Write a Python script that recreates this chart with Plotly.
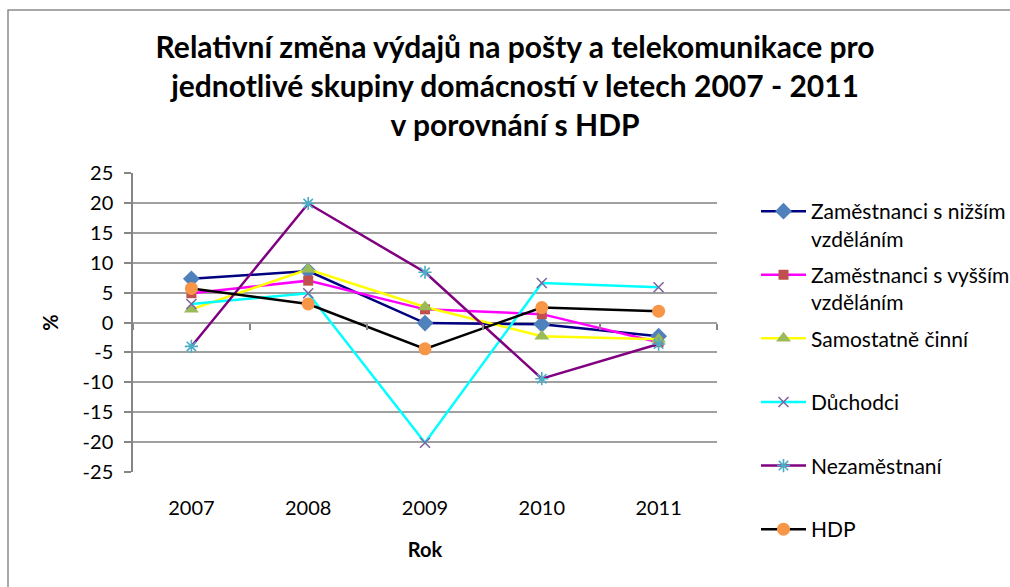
import plotly.graph_objects as go

years = ["2007", "2008", "2009", "2010", "2011"]
nizsi = [7.3, 8.6, -0.1, -0.3, -2.3]
vyssi = [4.9, 7.0, 2.2, 1.4, -3.3]
samostatne = [2.2, 8.9, 2.6, -2.3, -2.8]
duchodci = [3.1, 4.9, -20.1, 6.6, 5.9]
nezamestnani = [-4.0, 19.9, 8.4, -9.4, -3.6]
hdp = [5.7, 3.1, -4.4, 2.5, 1.9]
y_ticks = [25, 20, 15, 10, 5, 0, -5, -10, -15, -20, -25]

FONT = "Lato"

series = [
    ("Zaměstnanci s nižším<br>vzděláním", nizsi, "#000080", "diamond", "#4F81BD", 13, 0),
    ("Zaměstnanci s vyšším<br>vzděláním", vyssi, "#FF00FF", "square", "#C0504D", 10, 0),
    ("Samostatně činní<br> ", samostatne, "#FFFF00", "triangle-up", "#9BBB59", 13, 0),
    ("Důchodci<br> ", duchodci, "#00FFFF", "x-thin", "#8064A2", 10, 1.6),
    ("Nezaměstnaní<br> ", nezamestnani, "#800080", "asterisk", "#4BACC6", 11, 1.6),
    ("HDP<br> ", hdp, "#000000", "circle", "#F79646", 13, 0),
]

fig = go.Figure()
for i, (name, vals, lc, sym, mc, ms, mlw) in enumerate(series):
    marker = dict(symbol=sym, color=mc, size=ms)
    if mlw:
        marker["line"] = dict(color=mc, width=mlw)
    else:
        marker["line"] = dict(width=0)
    fig.add_trace(go.Scatter(
        x=years, y=vals, name=name, mode="lines+markers",
        line=dict(color=lc, width=2.5), marker=marker,
        legendgroup="g%d" % i,
    ))

# helper trace for the tick marks at the zero line
fig.add_trace(go.Scatter(x=years, y=[None] * len(years), xaxis="x2",
                         showlegend=False, hoverinfo="skip", mode="lines"))

fig.update_layout(
    width=1010, height=587,
    margin=dict(l=133, r=293, t=173, b=115, autoexpand=False),
    paper_bgcolor="white", plot_bgcolor="white",
    font=dict(family=FONT, size=20, color="#000000"),
    title=dict(
        text="Relativní změna výdajů na pošty a telekomunikace pro<br>jednotlivé skupiny domácností v letech 2007 - 2011<br>v porovnání s HDP",
        x=0.51, xanchor="center", xref="container",
        y=1 - 58 / 587, yanchor="top", yref="container",
        font=dict(family=FONT, size=30, color="#000000", weight="bold"),
    ),
    xaxis=dict(
        type="category", categoryarray=years, range=[-0.5, 4.5],
        showgrid=False, showline=False, zeroline=False,
        ticks="outside", ticklen=18, tickcolor="rgba(0,0,0,0)",
        tickfont=dict(size=20),
        title=dict(text="<b>Rok</b>", font=dict(size=20), standoff=24),
    ),
    xaxis2=dict(
        type="category", categoryarray=years, range=[-0.5, 4.5],
        overlaying="x", anchor="free", position=0.5,
        showgrid=False, showline=False, zeroline=False,
        showticklabels=False, ticks="outside", tickson="boundaries",
        ticklen=6, tickwidth=1.5, tickcolor="#868686",
    ),
    yaxis=dict(
        range=[-25, 25], tickvals=y_ticks, ticktext=[str(v) for v in y_ticks],
        showgrid=True, gridcolor="#a0a0a0", gridwidth=1.5,
        zeroline=False, showline=True, linecolor="#868686", linewidth=1.5,
        ticks="outside", ticklen=7, tickwidth=1.5, tickcolor="#868686",
        ticklabelstandoff=7, tickfont=dict(size=20),
        title=dict(text="<b>%</b>", font=dict(size=20), standoff=19),
    ),
    legend=dict(
        x=756 / 1010, xref="container", xanchor="left",
        y=1 - 191 / 587, yref="container", yanchor="top",
        bgcolor="rgba(0,0,0,0)", borderwidth=0,
        font=dict(family=FONT, size=21), valign="top",
        tracegroupgap=6, itemwidth=45, maxheight=500,
    ),
    showlegend=True,
)

fig.add_shape(type="rect", xref="paper", yref="paper",
              x0=(8 - 133) / 584, x1=(1030 - 133) / 584,
              y0=(472 - 600) / 299, y1=(472 - 10) / 299,
              line=dict(color="#8c8c8c", width=1.5), fillcolor="rgba(0,0,0,0)",
              layer="below")

fig.write_html("out.html",
               config={"displayModeBar": False},
               post_script="document.body.style.margin='0';document.body.style.overflow='hidden';")
